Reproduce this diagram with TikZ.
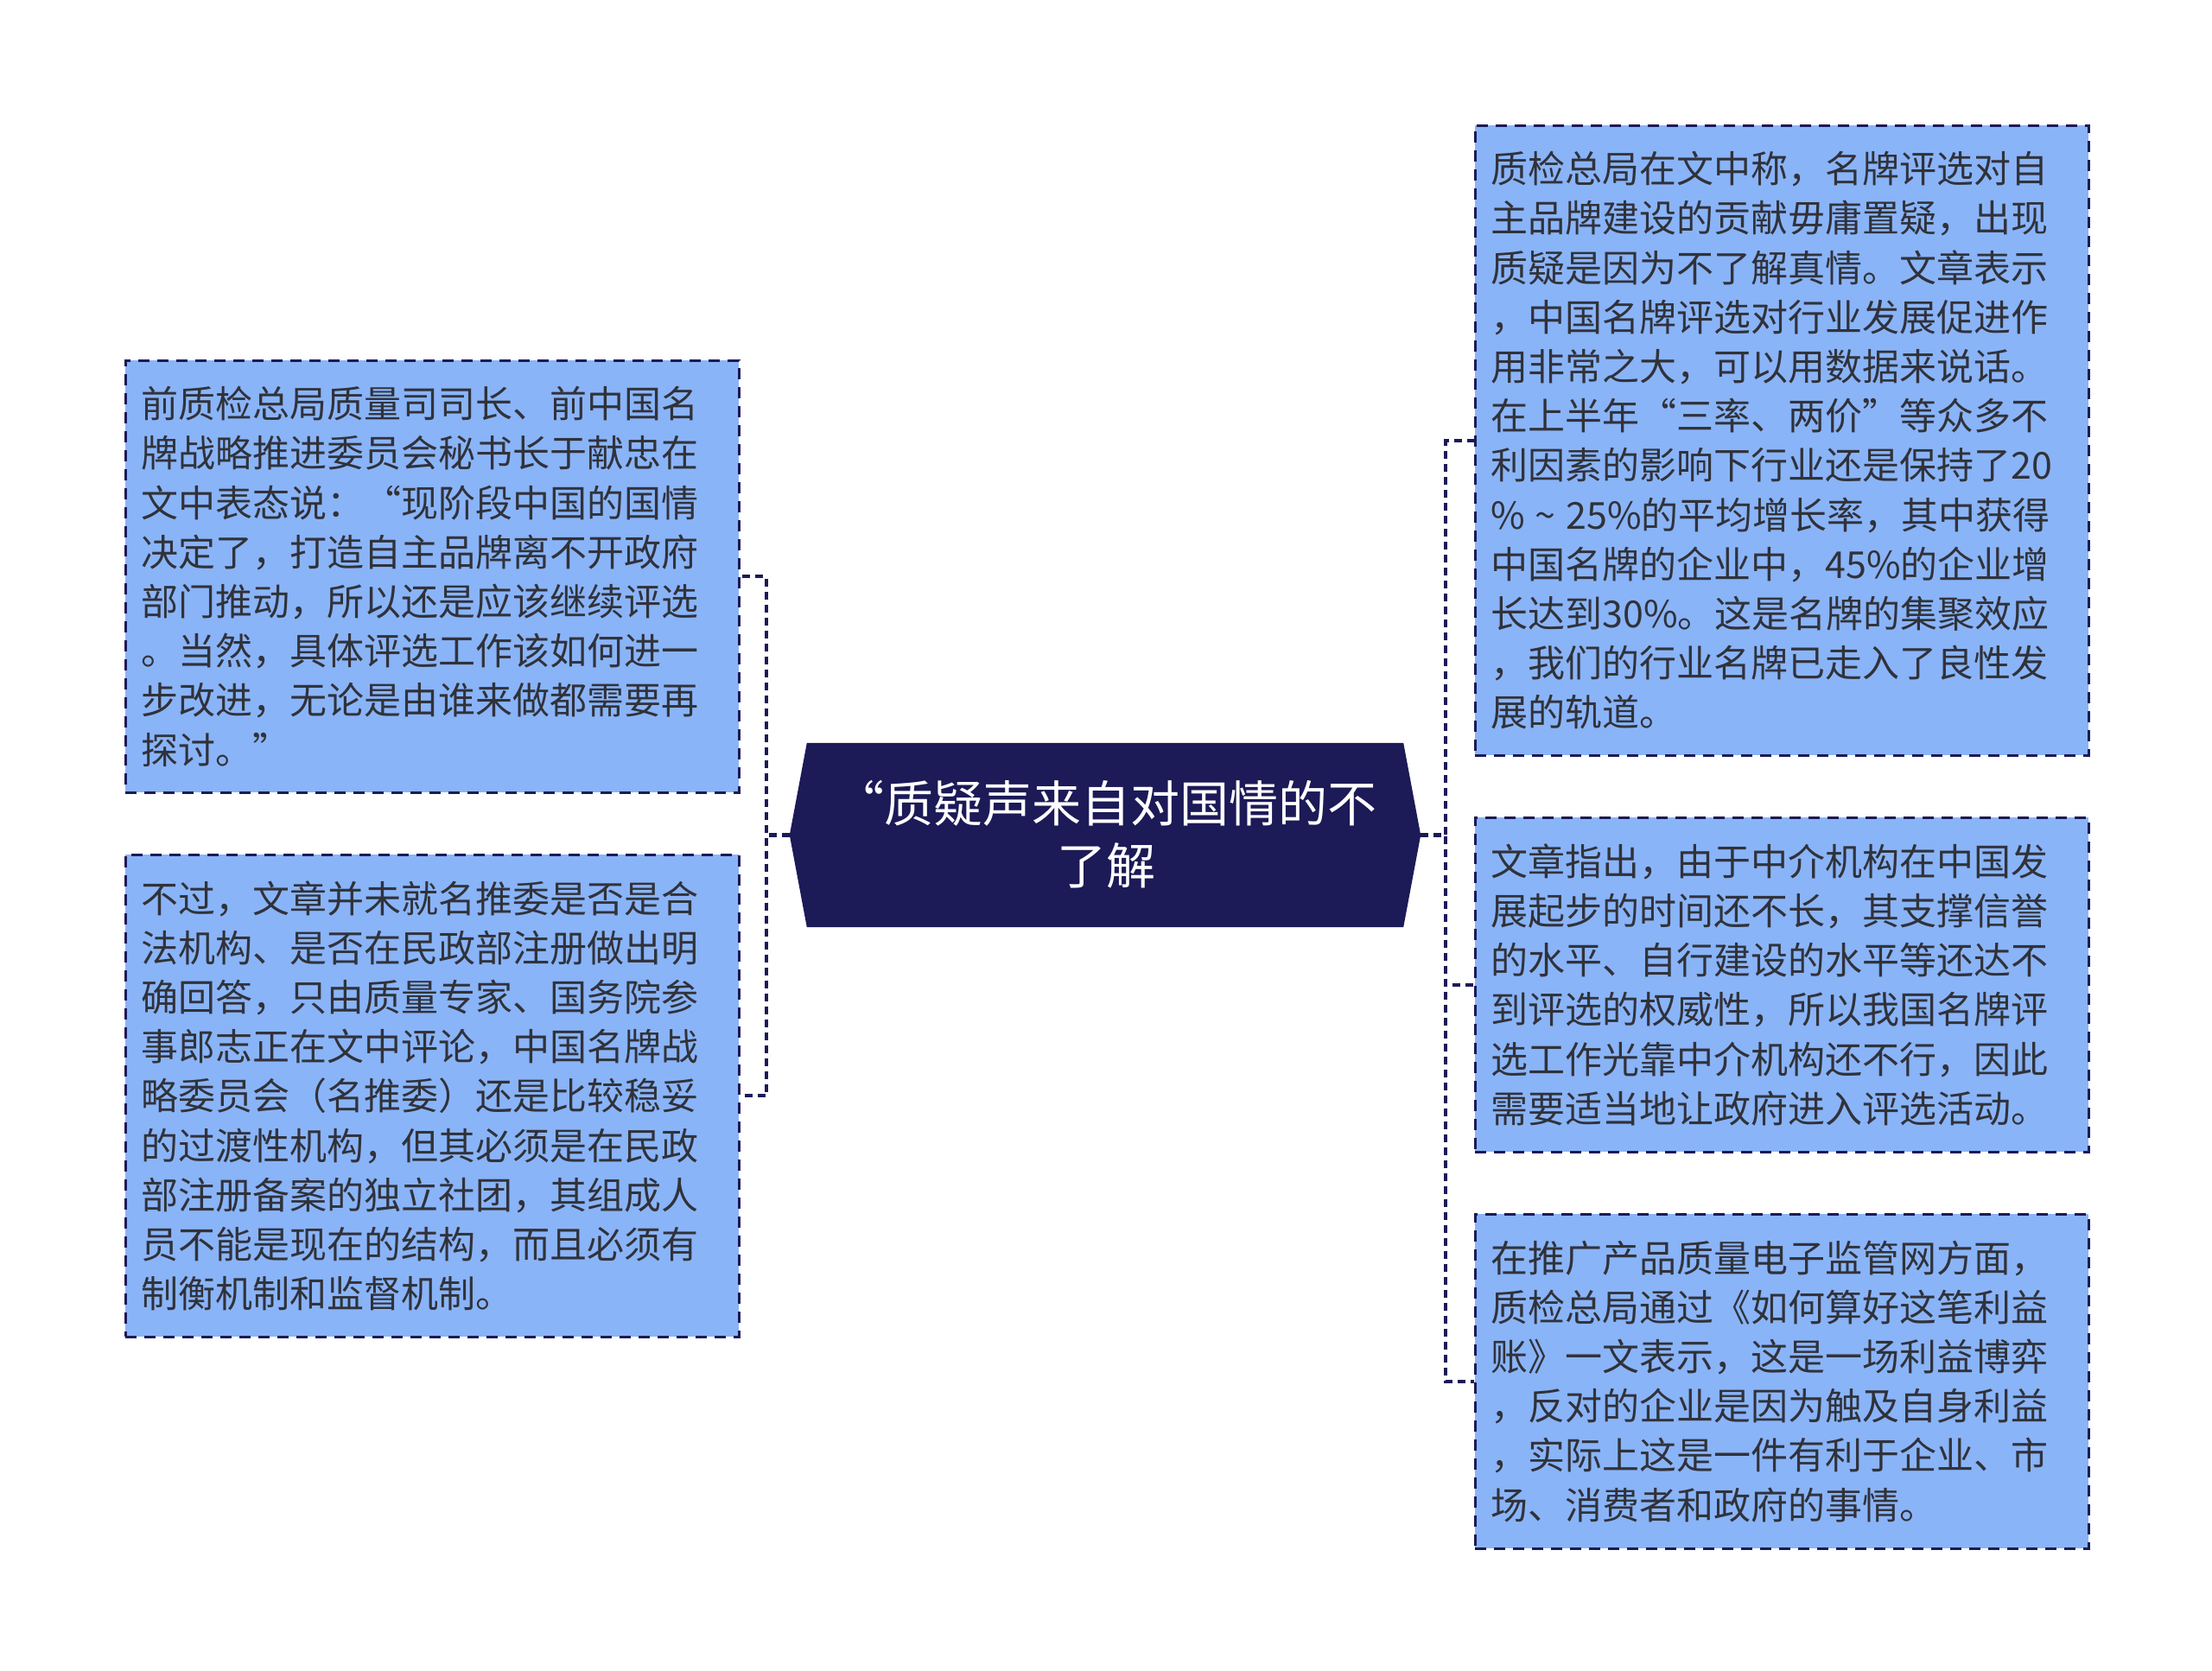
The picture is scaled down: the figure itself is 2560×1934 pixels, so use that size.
\documentclass[tikz,border=0pt]{standalone}
\usepackage{fontspec}
\setmainfont{Noto Sans CJK SC}
\definecolor{navy}{HTML}{1C1A57}
\definecolor{boxblue}{HTML}{8AB4F8}
\definecolor{txt}{HTML}{30323A}
\tikzset{
  leaf/.style={draw=navy, line width=2.6pt, dash pattern=on 13pt off 9pt, fill=boxblue,
    anchor=north west, minimum width=710pt, text width=674pt, inner xsep=18pt, inner ysep=0pt,
    align=left, text=txt, font=\fontsize{43}{57.2}\selectfont},
  link/.style={draw=navy, line width=4.2pt, dash pattern=on 9pt off 6pt},
}
\begin{document}
\begin{tikzpicture}[x=1pt,y=-1pt]
\useasboundingbox[fill=white] (0,0) rectangle (2560,1934);
% central node
\node[minimum width=690pt, minimum height=213pt, inner sep=0pt] (c) at (1279,966.5) {};
\fill[navy] (c.north west) -- (c.north east) -- ([xshift=20pt]c.east) -- (c.south east)
  -- (c.south west) -- ([xshift=-20pt]c.west) -- cycle;
\coordinate (cl) at ([xshift=-20pt]c.west);
\coordinate (cr) at ([xshift=20pt]c.east);
\node[text=white, align=center, font=\fontsize{57}{72}\selectfont] (ct) at (1280,966) {“质疑声来自对国情的不\\了解};
% leaves
\node[leaf, minimum height=500pt] (L1) at (144,416) {前质检总局质量司司长、前中国名\\牌战略推进委员会秘书长于献忠在\\文中表态说：“现阶段中国的国情\\决定了，打造自主品牌离不开政府\\部门推动，所以还是应该继续评选\\。当然，具体评选工作该如何进一\\步改进，无论是由谁来做都需要再\\探讨。”};
\node[leaf, minimum height=558pt] (L2) at (144,988) {不过，文章并未就名推委是否是合\\法机构、是否在民政部注册做出明\\确回答，只由质量专家、国务院参\\事郎志正在文中评论，中国名牌战\\略委员会（名推委）还是比较稳妥\\的过渡性机构，但其必须是在民政\\部注册备案的独立社团，其组成人\\员不能是现在的结构，而且必须有\\制衡机制和监督机制。};
\node[leaf, minimum height=729pt] (R1) at (1706,144) {质检总局在文中称，名牌评选对自\\主品牌建设的贡献毋庸置疑，出现\\质疑是因为不了解真情。文章表示\\，中国名牌评选对行业发展促进作\\用非常之大，可以用数据来说话。\\在上半年“三率、两价”等众多不\\利因素的影响下行业还是保持了20\\\%\;\textasciitilde\;25\%的平均增长率，其中获得\\中国名牌的企业中，45\%的企业增\\长达到30\%。这是名牌的集聚效应\\，我们的行业名牌已走入了良性发\\展的轨道。};
\node[leaf, minimum height=387pt] (R2) at (1706,945) {文章指出，由于中介机构在中国发\\展起步的时间还不长，其支撑信誉\\的水平、自行建设的水平等还达不\\到评选的权威性，所以我国名牌评\\选工作光靠中介机构还不行，因此\\需要适当地让政府进入评选活动。};
\node[leaf, minimum height=387pt] (R3) at (1706,1404) {在推广产品质量电子监管网方面，\\质检总局通过《如何算好这笔利益\\账》一文表示，这是一场利益博弈\\，反对的企业是因为触及自身利益\\，实际上这是一件有利于企业、市\\场、消费者和政府的事情。};
% connectors
\draw[link] (cl) -- ++(-27,0) |- (L1.east);
\draw[link] (cl) -- ++(-27,0) |- (L2.east);
\draw[link] (cr) -- ++(29,0) |- (R1.west);
\draw[link] (cr) -- ++(29,0) |- (R2.west);
\draw[link] (cr) -- ++(29,0) |- (R3.west);
\end{tikzpicture}
\end{document}
